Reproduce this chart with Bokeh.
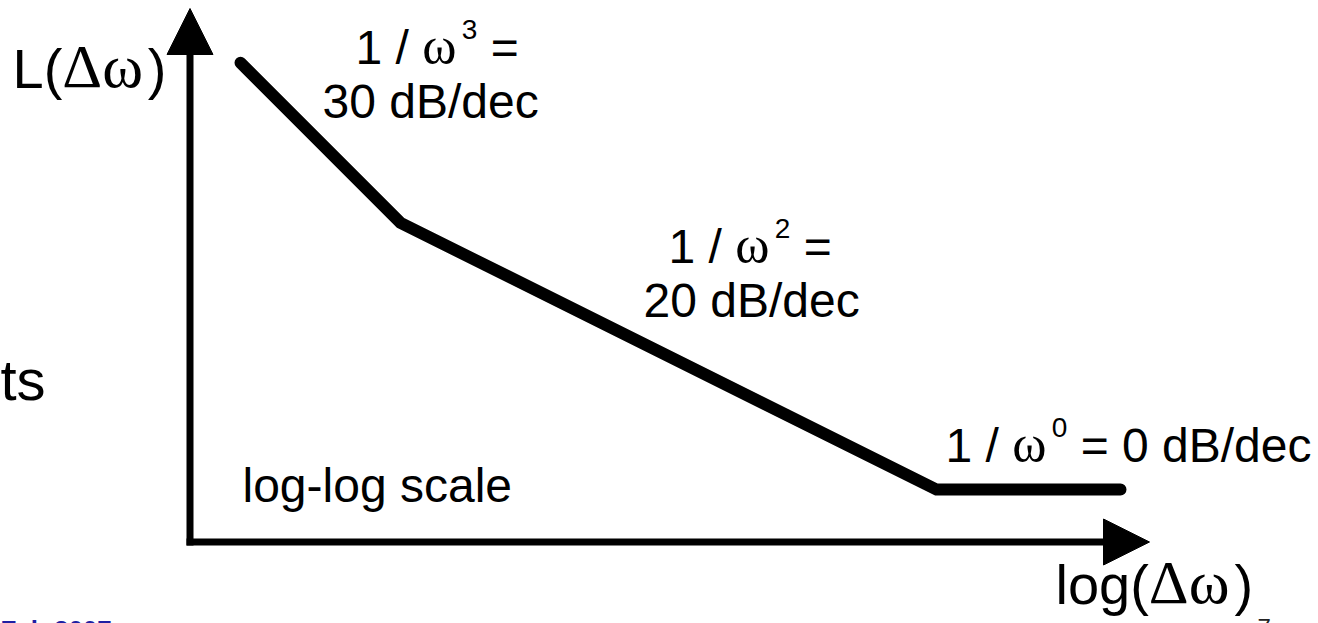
from bokeh.plotting import figure
from bokeh.models import Arrow, NormalHead, Range1d, ColumnDataSource
from bokeh.embed import file_html
from bokeh.resources import INLINE

# ---- data ----
log_dw = [1.0, 2.0, 5.35, 6.5]        # log(Δω), decades
L_db = [80, 50, 0, 0]                 # L(Δω), dB
powers = ["3", "2", "0"]
slopes = ["30 dB/dec", "20 dB/dec", "0 dB/dec"]
scale_note = "log-log scale"
y_label = ("L(", "Δω", ")")
x_label = ("log(", "Δω", ")")
side_text = "ts"
footer_text = "Feb 2007"
page_no = "7"

# ---- canvas geometry ----
W, H = 1318, 623
X0, X1 = -0.5, 7.7375
Y0, Y1 = -25.125, 91.6875
M = 0
K = 0.36   # baseline correction for svg text (fraction of font size)


def px2x(px):
    return X0 + (px - M) / W * (X1 - X0)


def py2y(py):
    return Y1 - (py - M) / H * (Y1 - Y0)


SANS = "Liberation Sans"
SERIF = "Liberation Serif"
W_SANS = {" ": .278, "/": .278, "=": .584, "d": .556, "B": .667, "e": .556, "c": .5,
          "l": .222, "o": .556, "g": .556, "-": .333, "s": .5, "a": .556, "L": .556,
          "(": .333, ")": .333, "t": .278, "F": .611, "b": .556}
W_SERIF = {"ω": .76, "Δ": .62}

cols = dict(x=[], y=[], text=[], font=[], size=[], color=[], style=[])


def run(x_px, base_px, parts, color="black", style="normal"):
    for text, fam, size, rise in parts:
        tab = W_SERIF if fam == SERIF else W_SANS
        lead = len(text) - len(text.lstrip(" "))
        x_px += lead * tab[" "] * size if fam == SANS else lead * .25 * size
        body = text.strip(" ")
        cols["x"].append(px2x(x_px))
        cols["y"].append(py2y(base_px - rise - K * size))
        cols["text"].append(body)
        cols["font"].append(fam)
        cols["size"].append(f"{size}px")
        cols["color"].append(color)
        cols["style"].append(style)
        x_px += sum(tab.get(ch, .556) for ch in text.lstrip(" ")) * size


FS, SS, RISE, AX, GK, OM = 48, 28, 25, 56, 62, 52

run(355, 64, [("1 / ", SANS, FS, 0), ("ω", SERIF, OM, 0), (powers[0], SANS, SS, RISE), (" =", SANS, FS, 0)])
run(322, 118, [(slopes[0], SANS, FS, 0)])
run(668, 263, [("1 / ", SANS, FS, 0), ("ω", SERIF, OM, 0), (powers[1], SANS, SS, RISE), (" =", SANS, FS, 0)])
run(643, 317, [(slopes[1], SANS, FS, 0)])
run(945, 462, [("1 / ", SANS, FS, 0), ("ω", SERIF, OM, 0), (powers[2], SANS, SS, RISE),
               (" = " + slopes[2], SANS, FS, 0)])
run(242, 502, [(scale_note, SANS, FS, 0)])
run(12, 88, [(y_label[0], SANS, AX, 0), (y_label[1], SERIF, GK, 0), (y_label[2], SANS, AX, 0)])
run(1055, 604, [(x_label[0], SANS, AX, 0), (x_label[1], SERIF, GK, 0), (x_label[2], SANS, AX, 0)])
run(0, 400, [(side_text, SANS, 58, 0)])
run(0, 639, [(footer_text, SANS, 26, 0)], color="#1f1fa3", style="bold")
run(1257, 636, [(page_no, SANS, 24, 0)], color="#222222")

p = figure(width=W, height=H, x_range=Range1d(X0, X1), y_range=Range1d(Y0, Y1),
           output_backend="svg", toolbar_location=None, min_border=0,
           x_axis_location=None, y_axis_location=None, outline_line_color=None)
p.grid.visible = False
p.background_fill_color = "white"
p.border_fill_color = "white"

# axes drawn as arrows
p.add_layout(Arrow(end=NormalHead(size=46, fill_color="black", line_color="black"),
                   x_start=px2x(189.5), y_start=py2y(545), x_end=px2x(189.5), y_end=py2y(8),
                   line_width=7, line_color="black"))
p.add_layout(Arrow(end=NormalHead(size=46, fill_color="black", line_color="black"),
                   x_start=px2x(186), y_start=py2y(541.5), x_end=px2x(1149), y_end=py2y(541.5),
                   line_width=7, line_color="black"))

p.line(log_dw, L_db, line_width=12, line_color="black", line_cap="round", line_join="miter")

p.text(x="x", y="y", text="text", text_font="font", text_font_size="size",
       text_font_style="style", text_baseline="alphabetic", text_align="left",
       text_color="color", source=ColumnDataSource(cols))

open("out.html", "w").write(file_html(p, INLINE))
